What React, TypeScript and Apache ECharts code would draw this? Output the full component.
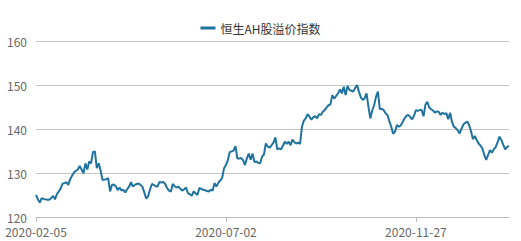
import React, { useEffect, useRef } from "react";
import * as echarts from "echarts";

const seriesName = "恒生AH股溢价指数";
const startDate = "2020-02-05";
const pointCount = 250;
// Mainland trading-calendar holidays (weekdays without trading)
const holidays = [
  "2020-04-06", "2020-05-01", "2020-05-04", "2020-05-05", "2020-06-25", "2020-06-26",
  "2020-10-01", "2020-10-02", "2020-10-05", "2020-10-06", "2020-10-07", "2020-10-08",
  "2021-01-01",
];
const yTicks = [120, 130, 140, 150, 160];
const values = [
  125.0, 124.0, 123.3, 124.3, 124.1, 124.0, 123.9, 123.9, 124.3, 124.8,
  124.0, 125.2, 125.8, 126.5, 127.6, 127.7, 127.9, 127.3, 128.6, 129.4,
  130.1, 130.5, 130.8, 131.6, 130.8, 129.9, 132.2, 130.8, 132.6, 132.2,
  134.8, 134.9, 131.1, 132.2, 130.6, 128.4, 128.5, 128.6, 128.8, 125.8,
  127.3, 127.4, 127.0, 126.1, 126.7, 126.0, 126.2, 125.6, 126.3, 126.9,
  127.9, 126.9, 127.3, 127.5, 127.6, 127.3, 126.9, 125.6, 124.2, 124.7,
  126.2, 127.5, 127.3, 127.0, 126.9, 128.0, 127.8, 128.0, 127.5, 126.6,
  126.0, 125.8, 127.5, 127.0, 126.7, 126.9, 126.4, 126.0, 126.3, 126.7,
  125.4, 125.2, 124.8, 125.8, 125.4, 125.0, 126.6, 126.4, 126.2, 126.1,
  125.9, 125.8, 126.2, 126.0, 127.7, 126.9, 127.8, 128.3, 128.9, 131.1,
  131.8, 132.9, 134.8, 134.9, 135.1, 136.1, 133.3, 133.3, 133.4, 132.9,
  131.8, 133.3, 134.4, 133.0, 134.4, 132.5, 132.6, 132.3, 132.2, 133.7,
  134.2, 136.7, 136.0, 135.8, 136.3, 136.9, 138.1, 135.4, 135.6, 135.4,
  136.2, 137.1, 136.6, 137.1, 136.3, 137.6, 137.0, 136.7, 136.9, 136.6,
  140.5, 141.9, 142.4, 143.4, 142.8, 142.1, 142.7, 142.9, 142.4, 143.4,
  143.2, 143.9, 144.3, 144.9, 145.4, 145.6, 147.7, 146.9, 147.5, 148.1,
  149.0, 148.1, 149.6, 147.7, 149.8, 148.9, 148.7, 148.5, 149.3, 150.0,
  148.5, 147.2, 146.6, 147.0, 148.1, 145.1, 142.4, 144.2, 145.4, 147.3,
  148.5, 144.5, 144.6, 144.3, 143.6, 143.2, 141.8, 140.5, 138.9, 139.4,
  140.9, 140.5, 140.8, 141.6, 142.4, 143.0, 143.2, 142.7, 142.2, 143.0,
  144.3, 144.1, 144.3, 144.3, 142.9, 145.5, 146.2, 144.9, 144.5, 144.2,
  143.7, 144.0, 143.9, 143.2, 143.7, 143.4, 143.6, 142.2, 143.7, 141.6,
  140.5, 140.2, 139.7, 139.0, 140.1, 141.0, 141.4, 141.7, 140.9, 139.5,
  137.7, 138.4, 137.5, 136.7, 136.2, 135.6, 134.1, 132.95, 134.1, 135.2,
  134.6, 135.4, 135.9, 137.0, 138.25, 137.5, 136.4, 135.4, 135.9, 136.2,
];

function tradingDays(start: string, n: number): string[] {
  const out: string[] = [];
  const d = new Date(start + "T00:00:00Z");
  const hol = new Set(holidays);
  while (out.length < n) {
    const s = d.toISOString().slice(0, 10);
    const wd = d.getUTCDay();
    if (wd !== 0 && wd !== 6 && !hol.has(s)) out.push(s);
    d.setUTCDate(d.getUTCDate() + 1);
  }
  return out;
}

const dates = tradingDays(startDate, pointCount);

export default function App() {
  const ref = useRef<HTMLDivElement>(null);
  useEffect(() => {
    if (!ref.current) return;
    const chart = echarts.init(ref.current, undefined, { renderer: "svg" });
    const font = "'Noto Sans CJK SC', 'Noto Sans', sans-serif";
    chart.setOption({
      animation: false,
      textStyle: { fontFamily: font },
      legend: {
        top: 17,
        left: "center",
        icon: "rect",
        itemWidth: 15,
        itemHeight: 3,
        itemGap: 10,
        textStyle: { color: "#333", fontSize: 12, fontFamily: font },
        data: [seriesName],
      },
      grid: { left: 36, right: 12, top: 41, bottom: 24, containLabel: false },
      xAxis: {
        type: "category",
        data: dates,
        boundaryGap: false,
        axisLine: { lineStyle: { color: "#bbb" } },
        axisTick: { interval: 99, lineStyle: { color: "#bbb" } },
        axisLabel: { interval: 99, color: "#666", fontSize: 12, fontFamily: font, margin: 8 },
      },
      yAxis: {
        type: "value",
        min: yTicks[0],
        max: yTicks[yTicks.length - 1],
        interval: 10,
        axisLine: { show: false },
        axisTick: { show: false },
        axisLabel: { color: "#666", fontSize: 12, fontFamily: font, margin: 9 },
        splitLine: { lineStyle: { color: "#c4c4c4" } },
      },
      series: [
        {
          name: seriesName,
          type: "line",
          data: values,
          showSymbol: false,
          symbol: "none",
          lineStyle: { color: "#21739f", width: 2 },
          itemStyle: { color: "#21739f" },
        },
      ],
    });
    return () => chart.dispose();
  }, []);
  return (
    <div
      ref={ref}
      style={{ position: "absolute", left: 0, top: 0, width: 521, height: 241 }}
    />
  );
}
